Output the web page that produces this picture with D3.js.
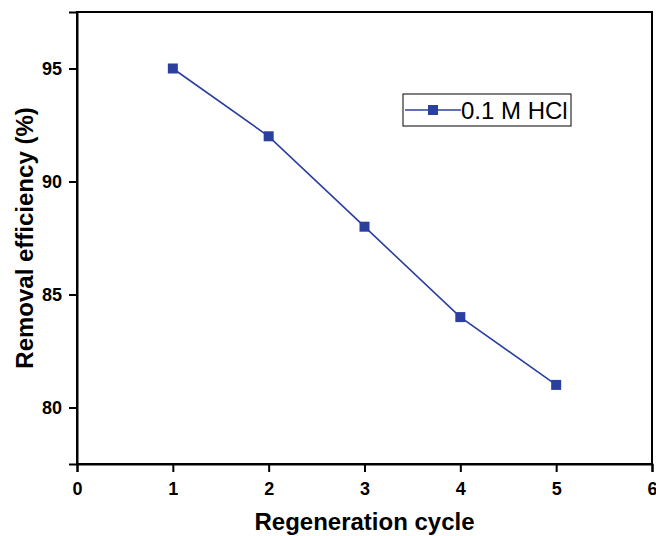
<!DOCTYPE html>
<meta charset="utf-8">
<script src="https://d3js.org/d3.v7.js"></script>
<style>
  body { margin: 0; background: #fff; }
  text { font-family: Arial, "Liberation Sans", sans-serif; }
</style>
<svg id="chart" width="656" height="536"></svg>
<script>
    // data
    var cycles = [1, 2, 3, 4, 5];
    var efficiency = [95, 92, 88, 84, 81];
    var seriesName = "0.1 M HCl";
    var xTicks = [0, 1, 2, 3, 4, 5, 6];
    var yTicks = [80, 85, 90, 95];

    var svg = d3.select("#chart");
    var color = "#2b3f9e";
    var mLeft = 77, mTop = 12, mRight = 652, mBottom = 464;

    var x = d3.scaleLinear().domain([0, 6]).range([mLeft, mRight]);
    var y = d3.scaleLinear().domain([77.5, 97.5]).range([mBottom, mTop]);

    // frame
    svg.append("rect")
        .attr("x", mLeft).attr("y", mTop)
        .attr("width", mRight - mLeft).attr("height", mBottom - mTop)
        .attr("fill", "none").attr("stroke", "#000").attr("stroke-width", 2);

    var xAxis = svg.append("g")
        .attr("transform", "translate(0," + mBottom + ")")
        .call(d3.axisBottom(x).tickValues(xTicks).tickFormat(d3.format("d")).tickSizeOuter(0).tickSize(8).tickPadding(10));
    var yAxis = svg.append("g")
        .attr("transform", "translate(" + mLeft + ",0)")
        .call(d3.axisLeft(y).tickValues(yTicks).tickFormat(d3.format("d")).tickSizeOuter(0).tickSize(8).tickPadding(7));

    [xAxis, yAxis].forEach(function (g) {
        g.attr("font-size", 18).attr("font-weight", "bold")
            .attr("font-family", "Arial, 'Liberation Sans', sans-serif");
        g.select(".domain").attr("stroke-width", 2);
        g.selectAll(".tick line").attr("stroke-width", 2);
        g.selectAll(".tick text").attr("fill", "#000");
    });

    // axis titles
    svg.append("text")
        .attr("x", (mLeft + mRight) / 2).attr("y", 530)
        .attr("text-anchor", "middle")
        .attr("font-size", 24).attr("font-weight", "bold")
        .text("Regeneration cycle");
    svg.append("text")
        .attr("transform", "translate(33,238) rotate(-90)")
        .attr("text-anchor", "middle")
        .attr("font-size", 24).attr("font-weight", "bold")
        .text("Removal efficiency (%)");

    // line + markers
    var pts = cycles.map(function (c, i) { return [c, efficiency[i]]; });
    svg.append("path")
        .datum(pts)
        .attr("fill", "none").attr("stroke", color).attr("stroke-width", 1.6)
        .attr("d", d3.line().x(function (d) { return x(d[0]); }).y(function (d) { return y(d[1]); }));
    svg.selectAll(".pt").data(pts).enter().append("rect")
        .attr("x", function (d) { return x(d[0]) - 5; })
        .attr("y", function (d) { return y(d[1]) - 5; })
        .attr("width", 10).attr("height", 10)
        .attr("fill", color);

    // legend
    var lg = svg.append("g").attr("transform", "translate(403,94)");
    lg.append("rect").attr("width", 168).attr("height", 32)
        .attr("fill", "#fff").attr("stroke", "#000").attr("stroke-width", 1);
    lg.append("line").attr("x1", 2).attr("x2", 58).attr("y1", 16).attr("y2", 16)
        .attr("stroke", color).attr("stroke-width", 1.6);
    lg.append("rect").attr("x", 25).attr("y", 11).attr("width", 10).attr("height", 10).attr("fill", color);
    lg.append("text").attr("x", 58).attr("y", 24.5)
        .attr("font-size", 24).attr("fill", "#000")
        .text(seriesName);
</script>
